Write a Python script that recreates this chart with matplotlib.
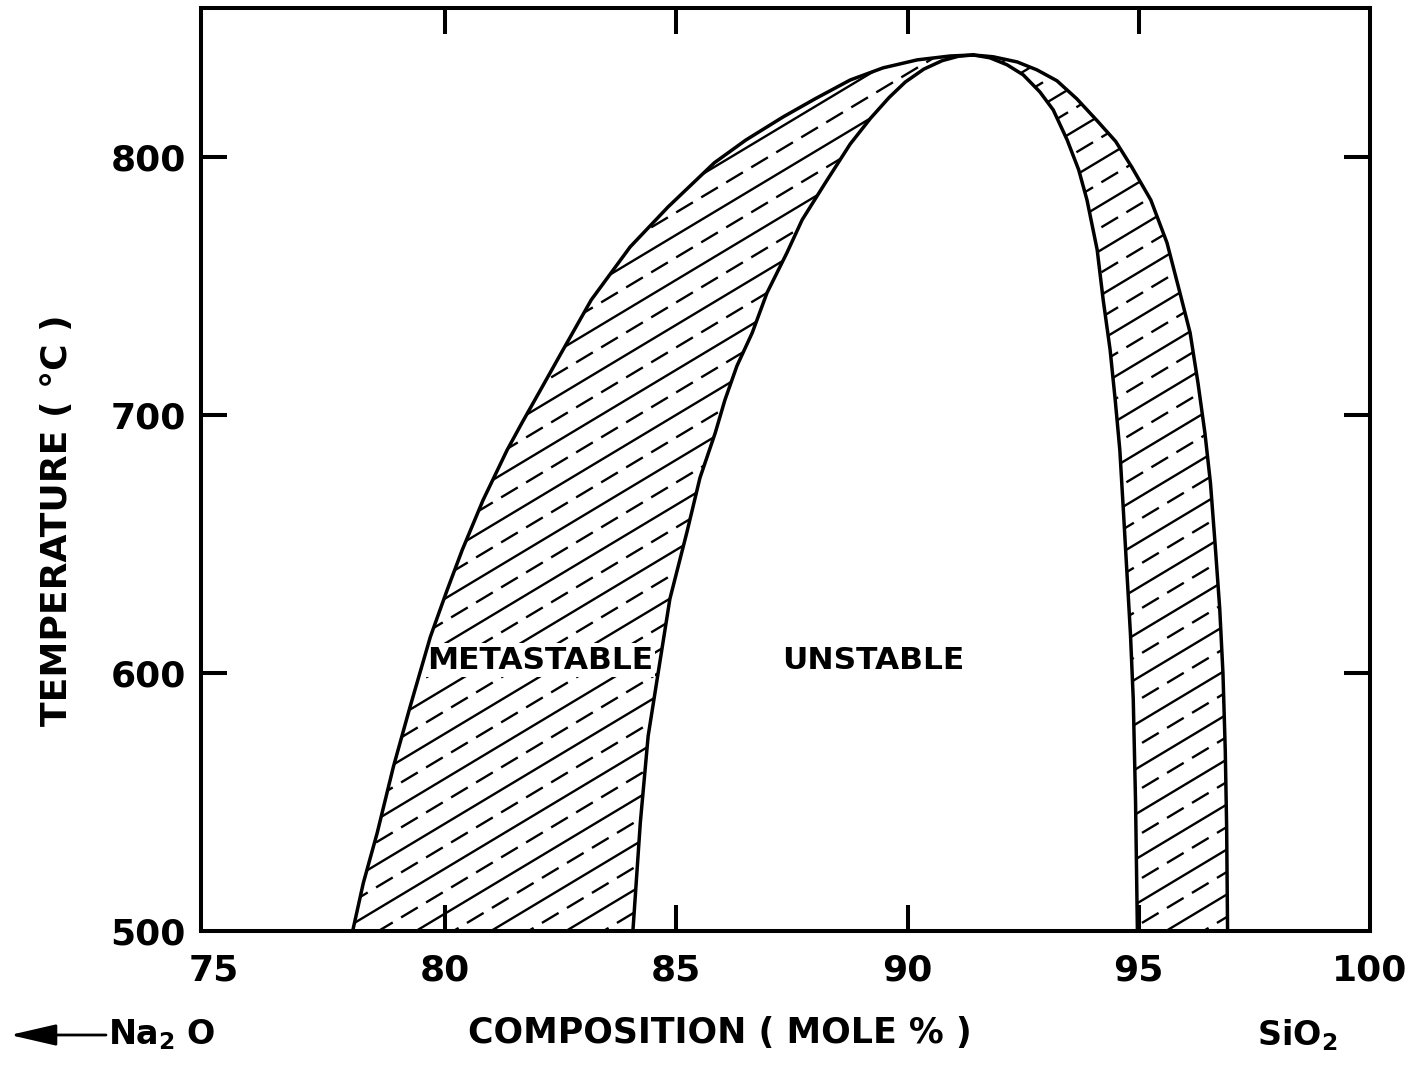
import matplotlib
matplotlib.use("Agg")
import matplotlib.pyplot as plt
from matplotlib.patches import Polygon
import numpy as np

plt.rcParams['font.family'] = ['DejaVu Sans']
plt.rcParams['lines.scale_dashes'] = False

# ---------------- data ----------------
binodal_left_x = [78.0, 78.23, 78.53, 78.88, 79.24, 79.68, 80.04, 80.37, 80.82, 81.34,
                  81.66, 82.10, 82.51, 83.16, 84.0, 84.82, 85.82, 86.5, 87.31, 88.0,
                  88.76, 89.47, 90.21, 90.92, 91.42]
binodal_left_t = [500, 518.6, 538, 563.6, 586.8, 614, 632, 647.7, 667, 686.4,
                  696.9, 710.9, 724, 744.6, 765.1, 780.6, 797.7, 806.5, 815.5, 822.5,
                  829.8, 834.5, 837.6, 839.1, 839.5]
binodal_right_x = [91.42, 91.85, 92.37, 92.80, 93.23, 93.66, 94.10, 94.50, 94.85, 95.26,
                   95.61, 95.89, 96.11, 96.28, 96.43, 96.55, 96.65, 96.75, 96.82, 96.87,
                   96.90, 96.92]
binodal_right_t = [839.5, 838.8, 836.8, 833.7, 829.5, 822.5, 814, 806, 796, 783.3,
                   766.7, 747.3, 731.8, 712.4, 693, 673.6, 650, 625, 600, 570,
                   540, 500]
spinodal_left_x = [84.06, 84.22, 84.39, 84.65, 84.86, 85.23, 85.51, 85.84, 86.05, 86.31,
                   86.64, 86.96, 87.39, 87.72, 88.22, 88.76, 89.2, 89.6, 89.95, 90.35,
                   90.75, 91.1, 91.42]
spinodal_left_t = [500, 541.9, 575.6, 605, 628.7, 654.7, 675.6, 693, 705.8, 719,
                   731.8, 747.3, 762.8, 775.6, 789.9, 805, 815, 823, 829, 834,
                   837.3, 839, 839.5]
spinodal_right_x = [91.42, 91.78, 92.15, 92.50, 92.86, 93.15, 93.45, 93.70, 93.88, 94.10,
                    94.23, 94.38, 94.49, 94.59, 94.66, 94.74, 94.82, 94.88, 94.93, 94.97]
spinodal_right_t = [839.5, 838.4, 835.7, 831.8, 825.2, 818.2, 806.6, 795, 783.3, 764,
                    744.6, 725.2, 705.8, 686.4, 665, 640, 615, 590, 550, 500]

x_ticks = [75, 80, 85, 90, 95, 100]
x_ticklabels = ["75", "80", "85", "90", "95", "100"]
y_ticks = [500, 600, 700, 800]
y_ticklabels = ["500", "600", "700", "800"]

region_labels = ["METASTABLE", "UNSTABLE"]
region_label_x = [82.05, 89.25]
region_label_t = [605, 605]

# ---------------- figure ----------------
W, H, DPI = 1409, 1072, 100
fig = plt.figure(figsize=(W / DPI, H / DPI), dpi=DPI)
fig.patch.set_facecolor('white')

ax_l, ax_r, ax_t, ax_b = 201, 1370, 8, 931
ax = fig.add_axes([ax_l / W, 1 - ax_b / H, (ax_r - ax_l) / W, (ax_b - ax_t) / H])
XMIN, XMAX, YMIN, YMAX = 74.72, 100, 500, 857.7
ax.set_xlim(XMIN, XMAX)
ax.set_ylim(YMIN, YMAX)

for s in ax.spines.values():
    s.set_linewidth(2.9)

ax.set_xticks(x_ticks)
ax.set_xticklabels(x_ticklabels)
ax.set_yticks(y_ticks)
ax.set_yticklabels(y_ticklabels)
ax.tick_params(axis='both', direction='in', length=19, width=2.9, top=True, right=True,
               labelsize=26)
ax.tick_params(axis='x', pad=16)
ax.tick_params(axis='y', pad=11)
for lab in ax.get_xticklabels() + ax.get_yticklabels():
    lab.set_fontweight('bold')
# no tick marks at the frame corners
for t in (ax.xaxis.get_major_ticks()[0], ax.xaxis.get_major_ticks()[-1],
          ax.yaxis.get_major_ticks()[0]):
    t.tick1line.set_visible(False)
    t.tick2line.set_visible(False)

# ---------------- band polygons ----------------
left_poly = list(zip(binodal_left_x, binodal_left_t)) + \
    list(zip(spinodal_left_x[::-1], spinodal_left_t[::-1]))
right_poly = list(zip(spinodal_right_x, spinodal_right_t)) + \
    list(zip(binodal_right_x[::-1], binodal_right_t[::-1]))

px_per_x = (ax_r - ax_l) / (XMAX - XMIN)
px_per_t = (ax_b - ax_t) / (YMAX - YMIN)
slope_px = 0.6
slope = slope_px * px_per_x / px_per_t
spacing = 22.5 / px_per_t
x_ref, t_ref = 94.98, 510.9

xs = np.array([XMIN, XMAX])
for poly in (left_poly, right_poly):
    patch = Polygon(poly, closed=True, facecolor='none', edgecolor='none')
    ax.add_patch(patch)
    for k in range(-80, 80):
        ts = t_ref + k * spacing + slope * (xs - x_ref)
        if k % 2 == 0:
            ln, = ax.plot(xs, ts, color='black', lw=1.7, zorder=1)
        else:
            ln, = ax.plot(xs, ts, color='black', lw=1.7, zorder=1,
                          linestyle=(0, (14, 7)))
        ln.set_clip_path(patch)

# ---------------- curves ----------------
for cx, ct in ((binodal_left_x, binodal_left_t), (binodal_right_x, binodal_right_t),
               (spinodal_left_x, spinodal_left_t), (spinodal_right_x, spinodal_right_t)):
    ax.plot(cx, ct, color='black', lw=2.5, zorder=3, solid_joinstyle='round',
            solid_capstyle='round')

for lbl, lx, lt in zip(region_labels, region_label_x, region_label_t):
    ax.text(lx, lt, lbl, ha='center', va='center', fontsize=22.5, fontweight='bold',
            zorder=2, bbox=dict(facecolor='white', edgecolor='none', pad=1.5))

# ---------------- axis titles ----------------
fig.text(57 / W, 1 - 520 / H, "TEMPERATURE ( °C )", rotation=90, ha='center',
         va='center', fontsize=26, fontweight='bold')
fig.text(720 / W, 1 - 1033 / H, "COMPOSITION ( MOLE % )", ha='center', va='center',
         fontsize=25, fontweight='bold')
fig.text(108 / W, 1 - 1035 / H, r"$\mathbf{Na_2\ O}$", ha='left', va='center',
         fontsize=24)
fig.text(1297 / W, 1 - 1035 / H, r"$\mathbf{SiO_2}$", ha='center', va='center',
         fontsize=24)
ax.annotate("", xy=(10, H - 1035), xytext=(106, H - 1035), xycoords='figure pixels',
            textcoords='figure pixels',
            arrowprops=dict(arrowstyle='-|>,head_length=1.3,head_width=0.3',
                            lw=2, color='black', mutation_scale=22,
                            shrinkA=0, shrinkB=0))

fig.savefig("out.png", dpi=DPI, facecolor='white')
